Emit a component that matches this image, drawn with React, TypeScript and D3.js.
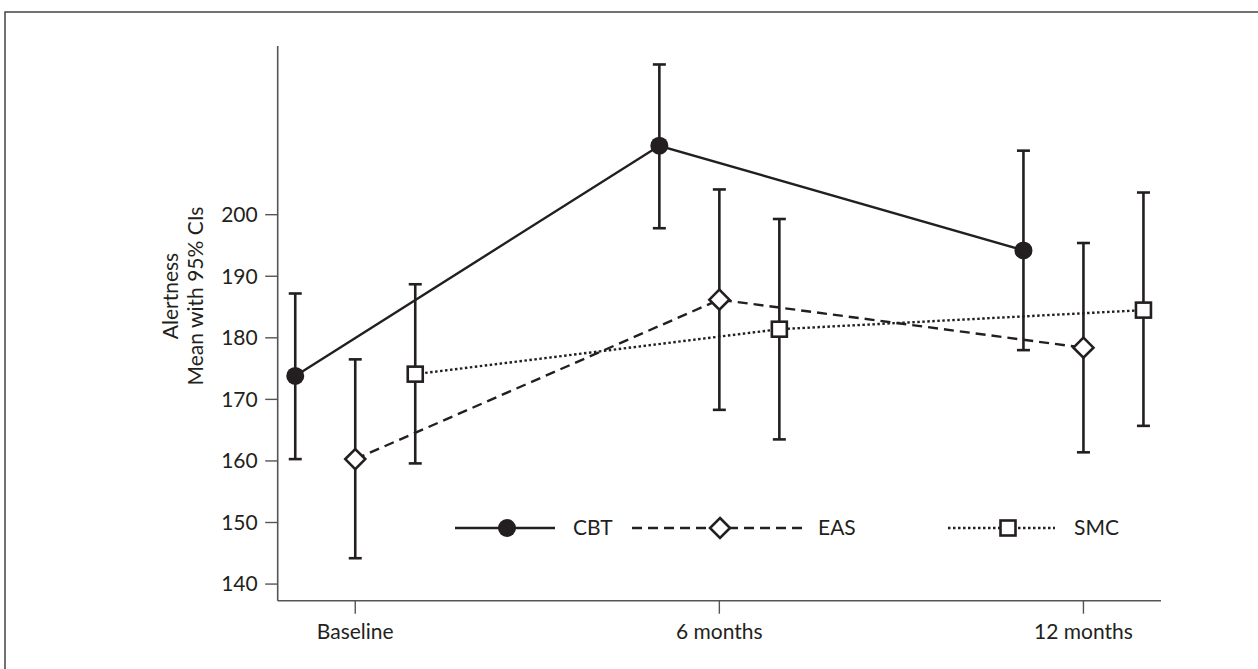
import React from "react";
import * as d3 from "d3";

// time points on the x axis and the three treatment groups
const timepoints = ["Baseline", "6 months", "12 months"];
const groups = ["CBT", "EAS", "SMC"];

// alertness means with 95% CI bounds
const cbtMean = [173.8, 211.2, 194.2];
const cbtLower = [160.3, 197.8, 178.0];
const cbtUpper = [187.2, 224.4, 210.4];

const easMean = [160.3, 186.2, 178.4];
const easLower = [144.2, 168.3, 161.4];
const easUpper = [176.5, 204.1, 195.4];

const smcMean = [174.1, 181.4, 184.5];
const smcLower = [159.6, 163.5, 165.7];
const smcUpper = [188.7, 199.3, 203.6];

const yTicks = [140, 150, 160, 170, 180, 190, 200];

const W = 1258;
const H = 669;
const INK = "#231f20";
const AXIS = "#555";
const FONT = "Lato, 'Open Sans', sans-serif";
const FS = 21;

type Series = {
  name: string;
  mean: number[];
  lower: number[];
  upper: number[];
  dash: string | null;
  lineWidth: number;
};

const series: Series[] = [
  { name: "CBT", mean: cbtMean, lower: cbtLower, upper: cbtUpper, dash: null, lineWidth: 2.4 },
  { name: "EAS", mean: easMean, lower: easLower, upper: easUpper, dash: "10,6", lineWidth: 2.4 },
  { name: "SMC", mean: smcMean, lower: smcLower, upper: smcUpper, dash: "2.5,2.5", lineWidth: 2.4 },
];

// marker shape per group
const Marker: React.FC<{ name: string; x: number; y: number }> = ({ name, x, y }) => {
  if (name === "CBT") {
    return <circle cx={x} cy={y} r={9} fill={INK} />;
  }
  if (name === "EAS") {
    const r = 10;
    return (
      <path
        d={`M${x},${y - r}L${x + r},${y}L${x},${y + r}L${x - r},${y}Z`}
        fill="white"
        stroke={INK}
        strokeWidth={2.6}
      />
    );
  }
  return (
    <rect x={x - 7.5} y={y - 7.5} width={15} height={15} fill="white" stroke={INK} strokeWidth={2.6} />
  );
};

const App: React.FC = () => {
  const plotLeft = 277.7;
  const plotRight = 1161;
  const plotTop = 46;
  const plotBottom = 600.7;

  const x = d3.scalePoint<string>().domain(timepoints).range([plotLeft, plotRight]).padding(0.213);
  const offset = d3.scalePoint<string>().domain(groups).range([-60, 60]);
  const y = d3.scaleLinear().domain([137.3, 227.4]).range([plotBottom, plotTop]);

  const px = (g: string, t: string) => (x(t) ?? 0) + (offset(g) ?? 0);

  const line = d3
    .line<[number, number]>()
    .x((d) => d[0])
    .y((d) => d[1]);

  const capHalf = 6.5;

  // legend layout
  const legendY = 528;
  const legendItems = [
    { name: "CBT", x0: 455, x1: 555, mx: 507, tx: 573 },
    { name: "EAS", x0: 632, x1: 808, mx: 720, tx: 818 },
    { name: "SMC", x0: 948, x1: 1055, mx: 1008, tx: 1074 },
  ];

  return (
    <svg
      width={W}
      height={H}
      style={{ position: "absolute", left: 0, top: 0, background: "white" }}
      fontFamily={FONT}
    >
      {/* outer frame */}
      <rect x={5} y={12} width={1400} height={800} fill="none" stroke="#444" strokeWidth={1.5} />

      {/* axes */}
      <line x1={plotLeft} x2={plotLeft} y1={plotTop} y2={plotBottom} stroke={AXIS} strokeWidth={1.6} />
      <line x1={plotLeft} x2={plotRight} y1={plotBottom} y2={plotBottom} stroke={AXIS} strokeWidth={1.6} />

      {yTicks.map((t) => (
        <g key={t}>
          <line x1={plotLeft - 12.5} x2={plotLeft} y1={y(t)} y2={y(t)} stroke={AXIS} strokeWidth={1.4} />
          <text
            x={plotLeft - 20}
            y={y(t)}
            dy="0.35em"
            textAnchor="end"
            fontSize={FS}
            fill={INK}
          >
            {t}
          </text>
        </g>
      ))}

      {timepoints.map((t) => (
        <g key={t}>
          <line x1={x(t)} x2={x(t)} y1={plotBottom} y2={plotBottom + 13} stroke={AXIS} strokeWidth={1.4} />
          <text x={x(t)} y={plotBottom + 38} textAnchor="middle" fontSize={FS} fill={INK}>
            {t}
          </text>
        </g>
      ))}

      {/* y axis title */}
      <g transform="translate(0,296)">
        <text transform="translate(171,0) rotate(-90)" textAnchor="middle" dy="0.35em" fontSize={FS} fill={INK}>
          Alertness
        </text>
        <text transform="translate(196,0) rotate(-90)" textAnchor="middle" dy="0.35em" fontSize={FS} fill={INK}>
          Mean with 95% CIs
        </text>
      </g>

      {/* connecting lines */}
      {series.map((s) => (
        <path
          key={s.name + "-line"}
          d={line(timepoints.map((t, i) => [px(s.name, t), y(s.mean[i])])) || ""}
          fill="none"
          stroke={INK}
          strokeWidth={s.lineWidth}
          strokeDasharray={s.dash ?? undefined}
        />
      ))}

      {/* error bars */}
      {series.map((s) =>
        timepoints.map((t, i) => {
          const cx = px(s.name, t);
          return (
            <g key={s.name + t + "-ci"} stroke={INK} strokeWidth={2.6}>
              <line x1={cx} x2={cx} y1={y(s.lower[i])} y2={y(s.upper[i])} />
              <line x1={cx - capHalf} x2={cx + capHalf} y1={y(s.lower[i])} y2={y(s.lower[i])} />
              <line x1={cx - capHalf} x2={cx + capHalf} y1={y(s.upper[i])} y2={y(s.upper[i])} />
            </g>
          );
        })
      )}

      {/* markers */}
      {series.map((s) =>
        timepoints.map((t, i) => (
          <Marker key={s.name + t + "-m"} name={s.name} x={px(s.name, t)} y={y(s.mean[i])} />
        ))
      )}

      {/* legend */}
      {legendItems.map((l) => {
        const s = series.find((d) => d.name === l.name)!;
        return (
          <g key={l.name + "-legend"}>
            <line
              x1={l.x0}
              x2={l.x1}
              y1={legendY}
              y2={legendY}
              stroke={INK}
              strokeWidth={s.lineWidth}
              strokeDasharray={s.dash ?? undefined}
            />
            <Marker name={l.name} x={l.mx} y={legendY} />
            <text x={l.tx} y={legendY} dy="0.35em" fontSize={FS} fill={INK}>
              {l.name}
            </text>
          </g>
        );
      })}
    </svg>
  );
};

export default App;
